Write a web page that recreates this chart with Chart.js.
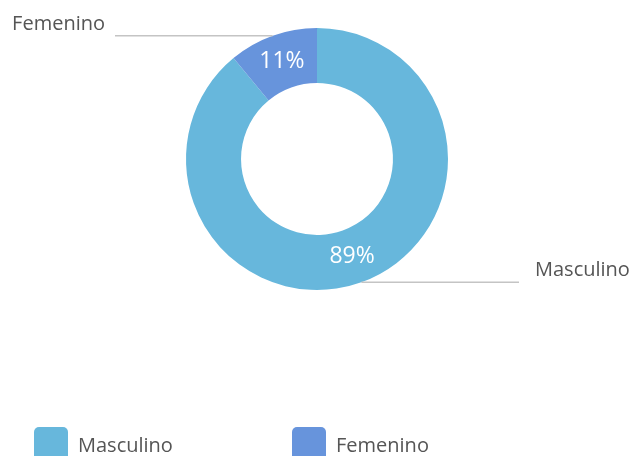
<!DOCTYPE html>
<html>
<head>
<meta charset="utf-8">
<script src="https://cdn.jsdelivr.net/npm/chart.js@4"></script>
<style>
    html, body { margin: 0; padding: 0; background: #fff; }
    #wrap { position: relative; width: 634px; height: 456px; overflow: hidden; }
    #leyenda { position: absolute; left: 34px; top: 427px; display: flex; }
    .item { display: flex; align-items: center; width: 258px; font-family: "Open Sans", sans-serif; font-size: 20px; color: #555; }
    .caja { width: 34px; height: 34px; border-radius: 5px; margin-right: 10px; }
</style>
</head>
<body>
<div id="wrap">
    <canvas id="meuGrafico" width="634" height="456"></canvas>
    <div id="leyenda"></div>
</div>
<script>
const categorias = ['Masculino', 'Femenino']
const valores = [89, 11]
const cores = ['#67b7dc', '#6794dc']

//etiquetas con linea y porcentaje dentro del anillo
const etiquetas = {
    id: 'etiquetas',
    afterDatasetsDraw(chart) {
        const ctx = chart.ctx
        const meta = chart.getDatasetMeta(0)
        const total = valores.reduce((a, b) => a + b, 0)
        ctx.save()
        meta.data.forEach((arc, i) => {
            const p = arc.getProps(['x', 'y', 'startAngle', 'endAngle', 'outerRadius'], true)
            const mid = (p.startAngle + p.endAngle) / 2
            const ex = p.x + Math.cos(mid) * p.outerRadius
            const ey = p.y + Math.sin(mid) * p.outerRadius
            const derecha = Math.cos(mid) >= 0
            const fin = derecha ? p.x + 202 : p.x - 202

            ctx.strokeStyle = '#c4c4c4'
            ctx.lineWidth = 1.5
            ctx.beginPath()
            ctx.moveTo(ex, ey)
            ctx.lineTo(fin, ey)
            ctx.stroke()

            ctx.fillStyle = '#555'
            ctx.font = '20px "Open Sans"'
            ctx.textBaseline = 'alphabetic'
            ctx.textAlign = derecha ? 'left' : 'right'
            ctx.fillText(categorias[i], derecha ? fin + 16 : fin - 10, ey - 6)

            const c = arc.tooltipPosition(true)
            ctx.fillStyle = '#fff'
            ctx.font = '23px "Open Sans"'
            ctx.textAlign = 'center'
            ctx.textBaseline = 'middle'
            ctx.fillText(Math.round(valores[i] / total * 100) + '%', c.x, c.y)
        })
        ctx.restore()
    }
}

new Chart(document.getElementById('meuGrafico'), {
    type: 'doughnut',
    data: {
        labels: categorias,
        datasets: [{
            data: valores,
            backgroundColor: cores,
            borderWidth: 0
        }]
    },
    options: {
        responsive: false,
        animation: false,
        cutout: '58%',
        layout: {
            padding: { top: 28, bottom: 166, left: 186, right: 186 }
        },
        plugins: {
            legend: { display: false },
            tooltip: { enabled: false }
        }
    },
    plugins: [etiquetas]
})

//leyenda abajo
const leyenda = document.getElementById('leyenda')
categorias.forEach((nome, i) => {
    const item = document.createElement('div')
    item.className = 'item'
    const caja = document.createElement('div')
    caja.className = 'caja'
    caja.style.background = cores[i]
    const texto = document.createElement('span')
    texto.textContent = nome
    item.appendChild(caja)
    item.appendChild(texto)
    leyenda.appendChild(item)
})
</script>
</body>
</html>
